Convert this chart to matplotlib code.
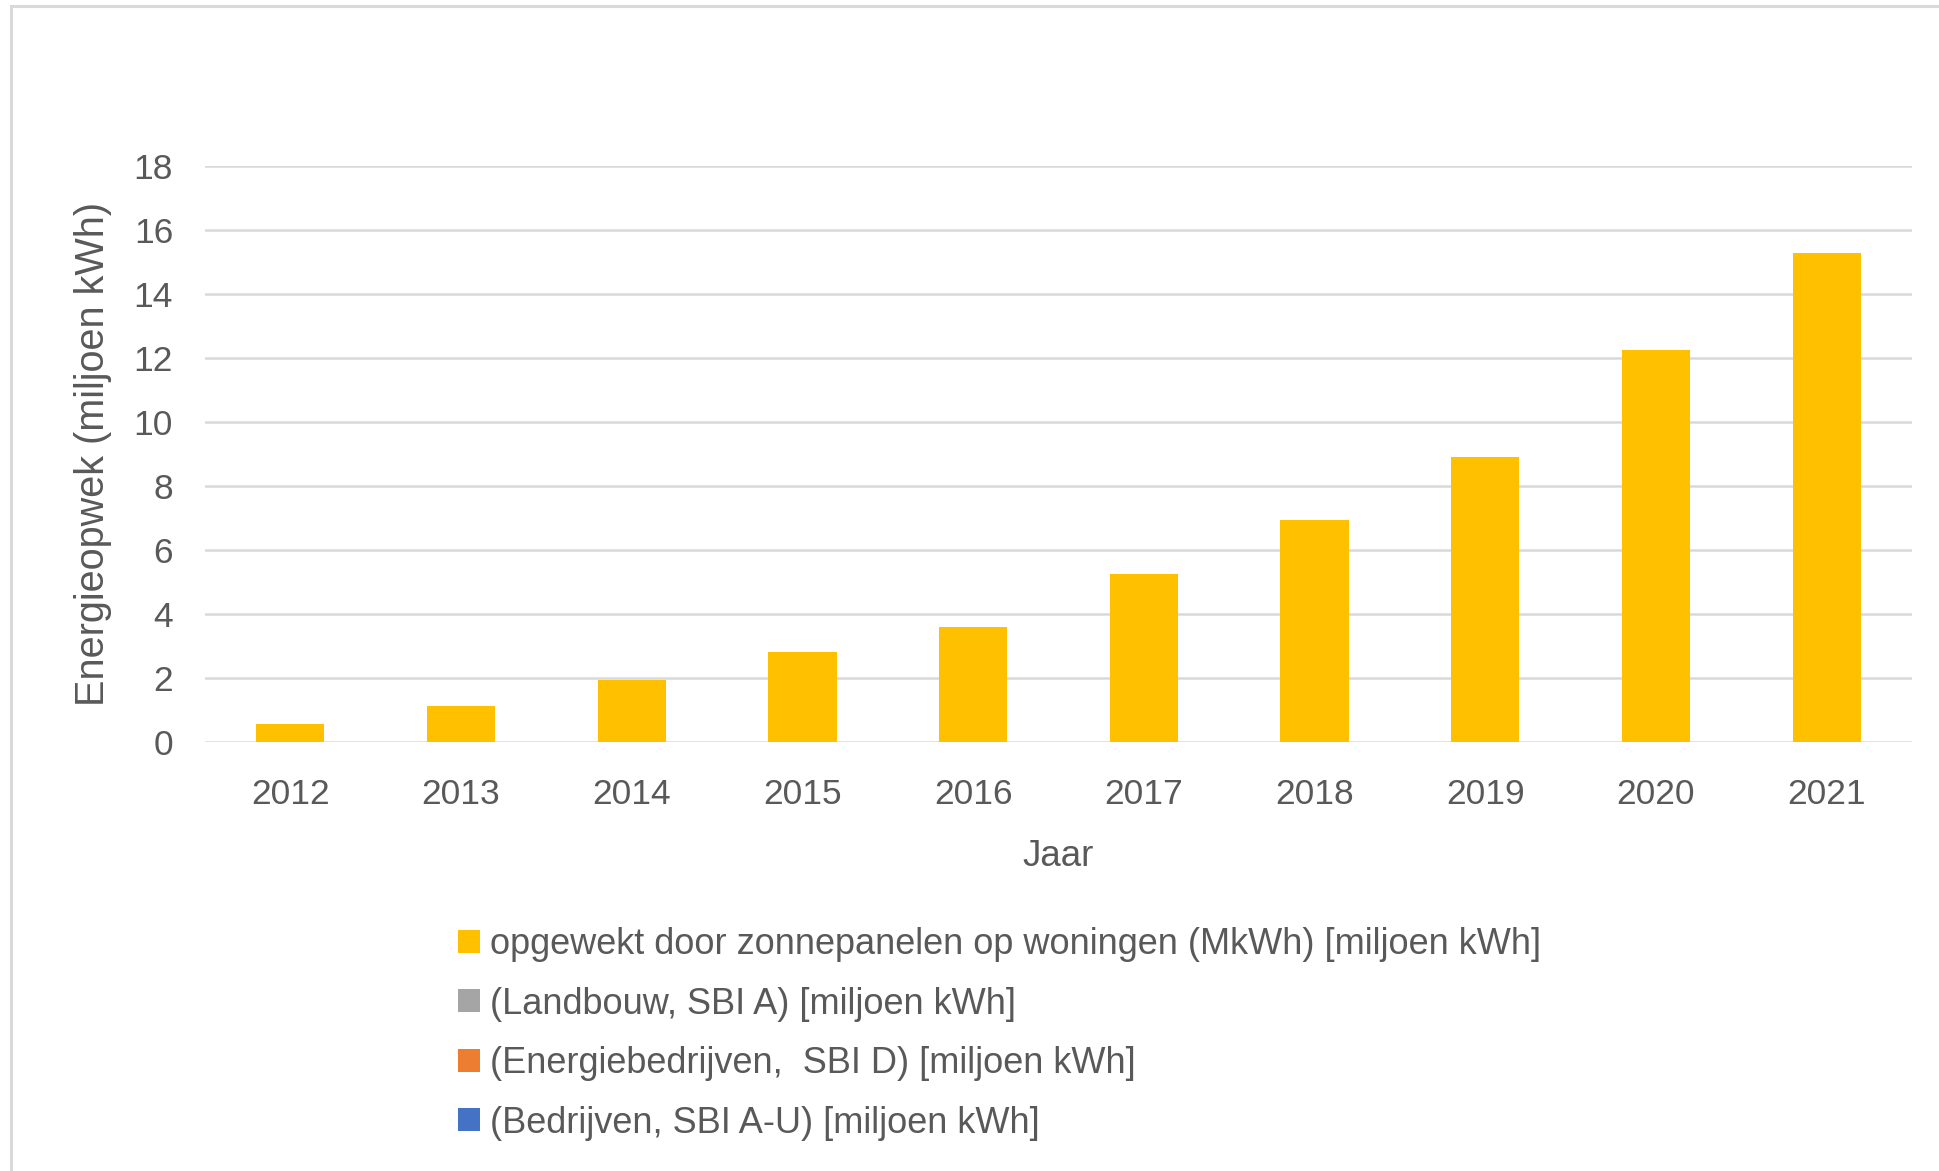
import matplotlib as mpl
mpl.use('Agg')
import numpy as np
import matplotlib.pyplot as plt
from matplotlib.patches import Patch, Rectangle

years = ['2012', '2013', '2014', '2015', '2016', '2017', '2018', '2019', '2020', '2021']
woningen = [0.55, 1.14, 1.94, 2.81, 3.60, 5.27, 6.95, 8.90, 12.25, 15.29]  # miljoen kWh
series_labels = ['opgewekt door zonnepanelen op woningen (MkWh) [miljoen kWh]',
                 '(Landbouw, SBI A) [miljoen kWh]',
                 '(Energiebedrijven,  SBI D) [miljoen kWh]',
                 '(Bedrijven, SBI A-U) [miljoen kWh]']
series_colors = ['#ffc000', '#a5a5a5', '#ed7d31', '#4472c4']

plt.rcParams['font.family'] = ['Liberation Sans', 'DejaVu Sans']
txt = '#595959'
grid = '#d9d9d9'
W, H = 1939, 1171

fig = plt.figure(figsize=(W/100, H/100), dpi=100)
# chart area border (light grey)
fig.patches.append(Rectangle((11/W, -0.1), 1.2, 1 - 6/H + 0.1, transform=fig.transFigure,
                             fill=False, edgecolor=grid, linewidth=2.2))

ax = fig.add_axes([205/W, 1 - 742/H, (1912-205)/W, (742-166.5)/H])
x = np.arange(len(years))
ax.bar(x, woningen, width=0.4, color=series_colors[0], zorder=3)

ax.set_xlim(-0.5, len(years) - 0.5)
ax.set_ylim(0, 18)
ax.set_yticks(np.arange(0, 19, 2))
ax.set_xticks(x)
ax.set_xticklabels(years)
ax.yaxis.grid(True, color=grid, linewidth=1.8, zorder=0)
for s in ax.spines.values():
    s.set_visible(False)
ax.tick_params(length=0, labelsize=25.5, labelcolor=txt)
ax.tick_params(axis='y', pad=23)
ax.tick_params(axis='x', pad=26)

fig.text(93/W, 1 - 454/H, 'Energieopwek (miljoen kWh)', rotation=90, ha='center', va='center',
         fontsize=28.5, color=txt)
fig.text(1058/W, 1 - 857/H, 'Jaar', ha='center', va='center', fontsize=26.5, color=txt)

handles = [Patch(facecolor=c, edgecolor='none') for c in series_colors]
fig.legend(handles, series_labels, loc='upper left', bbox_to_anchor=(458/W, 1 - 927/H),
           frameon=False, fontsize=26, labelcolor=txt, handlelength=0.6, handleheight=0.6,
           handletextpad=0.3, labelspacing=0.68, borderpad=0, borderaxespad=0)

fig.savefig('out.png', dpi=100, facecolor='white')
